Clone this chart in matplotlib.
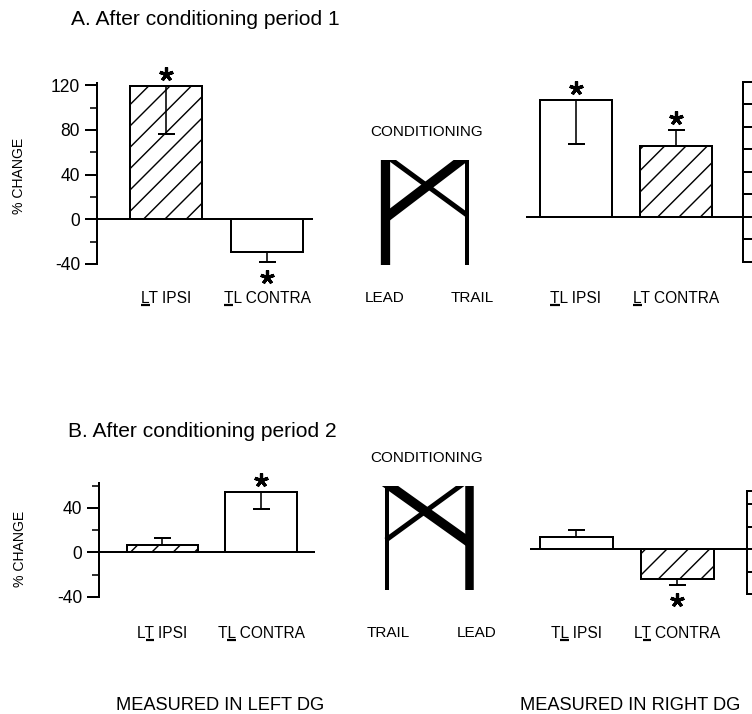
import matplotlib
matplotlib.use("Agg")
import matplotlib.pyplot as plt
from matplotlib.patches import Rectangle
from matplotlib.transforms import offset_copy

plt.rcParams["font.family"] = ["Liberation Sans", "DejaVu Sans"]
plt.rcParams["axes.unicode_minus"] = False
plt.rcParams["hatch.linewidth"] = 0.8

DPI = 128
W, H = 752, 714

# ---- data (% change) ----
a_left_labels = ["LT IPSI", "TL CONTRA"]
a_left_marked = [0, 0]             # index of the underlined letter
a_left_values = [119, -29]
a_left_errors = [-43, -9]          # signed: which way the error bar runs
a_left_hatched = [True, False]
a_left_stars = [True, True]

a_right_labels = ["TL IPSI", "LT CONTRA"]
a_right_marked = [0, 0]
a_right_values = [104, 63]
a_right_errors = [-39, 14]
a_right_hatched = [False, True]
a_right_stars = [True, True]

b_left_labels = ["LT IPSI", "TL CONTRA"]
b_left_marked = [1, 1]
b_left_values = [7, 54]
b_left_errors = [6, -15]
b_left_hatched = [True, False]
b_left_stars = [False, True]

b_right_labels = ["TL IPSI", "LT CONTRA"]
b_right_marked = [1, 1]
b_right_values = [11, -26]
b_right_errors = [6, -6]
b_right_hatched = [False, True]
b_right_stars = [False, True]


def pt(px):
    return px * 72 / DPI


def rect(left, top, right, bottom):
    return [left / W, 1 - bottom / H, (right - left) / W, (bottom - top) / H]


fig = plt.figure(figsize=(W / DPI, H / DPI), dpi=DPI)

# overlay in pixel coordinates for titles and the little limb diagrams
ov = fig.add_axes([0, 0, 1, 1])
ov.set_xlim(0, W)
ov.set_ylim(H, 0)
ov.axis("off")


def bars(ax, labels, values, errors, hatched, stars, ylim, pad):
    x = list(range(len(values)))
    for i in x:
        ax.bar(i, values[i], width=0.72, color="white", edgecolor="black",
               linewidth=pt(2), hatch="//" if hatched[i] else None, zorder=2)
    lo = [max(-e, 0) for e in errors]
    hi = [max(e, 0) for e in errors]
    ax.errorbar(x, values, yerr=[lo, hi], fmt="none", ecolor="black",
                elinewidth=pt(1.6), capsize=pt(8.5), capthick=pt(2), zorder=3)
    ax.axhline(0, color="black", linewidth=pt(2), zorder=4)
    for i in x:
        if not stars[i]:
            continue
        if values[i] >= 0:
            y = max(values[i], values[i] + errors[i])
            tr = offset_copy(ax.transData, fig=fig, y=pt(12), units="points")
        else:
            y = min(values[i], values[i] + errors[i])
            tr = offset_copy(ax.transData, fig=fig, y=-pt(15), units="points")
        ax.plot([i], [y], marker=(5, 2, 0), ms=pt(14), mew=pt(3.2),
                color="black", transform=tr, clip_on=False)
    ax.set_ylim(*ylim)
    ax.set_xticks(x, labels)
    ax.tick_params(axis="x", length=0, pad=pt(pad), labelsize=pt(15.5))
    ax.patch.set_visible(False)
    for s in ["top", "bottom"]:
        ax.spines[s].set_visible(False)


def left_axis(ax, major, minor):
    ax.spines["right"].set_visible(False)
    ax.spines["left"].set_linewidth(pt(2))
    ax.set_yticks(major)
    ax.set_yticks(minor, minor=True)
    ax.tick_params(axis="y", which="major", length=pt(12), width=pt(2),
                   pad=pt(5), labelsize=pt(17.5))
    ax.tick_params(axis="y", which="minor", length=pt(7), width=pt(1.6))


def right_axis(ax, ticks):
    ax.spines["left"].set_visible(False)
    ax.spines["right"].set_linewidth(pt(2))
    ax.yaxis.tick_right()
    ax.set_yticks(ticks)
    ax.tick_params(axis="y", length=pt(14), width=pt(2), labelright=False)


# A, measured in left DG
ax1 = fig.add_axes(rect(97, 83, 313, 264))
ax1.set_xlim(-0.683, 1.455)
bars(ax1, a_left_labels, a_left_values, a_left_errors, a_left_hatched,
     a_left_stars, (-40, 122), 27)
left_axis(ax1, [-40, 0, 40, 80, 120], [-20, 20, 60, 100])

# A, measured in right DG
ax2 = fig.add_axes(rect(526, 81.7, 742.7, 261.7))
ax2.set_xlim(-0.4985, 1.662)
bars(ax2, a_right_labels, a_right_values, a_right_errors, a_right_hatched,
     a_right_stars, (-40, 120), 29.3)
right_axis(ax2, [-40, -20, 0, 20, 40, 60, 80, 100, 120])

# B, measured in left DG
ax3 = fig.add_axes(rect(99.3, 483.4, 315, 596.8))
ax3.set_xlim(-0.637, 1.546)
bars(ax3, b_left_labels, b_left_values, b_left_errors, b_left_hatched,
     b_left_stars, (-40, 62), 29.2)
left_axis(ax3, [-40, 0, 40], [-20, 20, 60])

# B, measured in right DG
ax4 = fig.add_axes(rect(530, 490.8, 747.3, 594.3))
ax4.set_xlim(-0.4575, 1.690)
bars(ax4, b_right_labels, b_right_values, b_right_errors, b_right_hatched,
     b_right_stars, (-40, 52), 31.7)
right_axis(ax4, [-40, -20, 0, 20, 40, 52])

# titles and captions
ov.text(71, 25, "A. After conditioning period 1", fontsize=pt(21), va="baseline")
ov.text(68, 437, "B. After conditioning period 2", fontsize=pt(21), va="baseline")
ov.text(220, 710, "MEASURED IN LEFT DG", fontsize=pt(18.3), ha="center", va="baseline")
ov.text(630, 710, "MEASURED IN RIGHT DG", fontsize=pt(18.3), ha="center", va="baseline")
ov.text(19, 176, "% CHANGE", fontsize=pt(14), rotation=90, ha="center", va="center")
ov.text(20, 549, "% CHANGE", fontsize=pt(14), rotation=90, ha="center", va="center")

# conditioning diagrams
ov.text(427, 136, "CONDITIONING", fontsize=pt(15.3), ha="center", va="baseline")
ov.text(385, 302, "LEAD", fontsize=pt(15.3), ha="center", va="baseline")
ov.text(472, 302, "TRAIL", fontsize=pt(15.3), ha="center", va="baseline")
clip_a = Rectangle((360, 160), 130, 105, transform=ov.transData)
for xs, ys, w in [([384.5, 384.5], [150, 265], 9.3),
                  ([467, 467], [150, 265], 4),
                  ([384, 468], [219, 155], 9.5),
                  ([385, 467], [155, 215], 5)]:
    ln, = ov.plot(xs, ys, color="black", linewidth=pt(w), solid_capstyle="butt")
    ln.set_clip_path(clip_a)

ov.text(427, 462, "CONDITIONING", fontsize=pt(15.3), ha="center", va="baseline")
ov.text(388, 637, "TRAIL", fontsize=pt(15.3), ha="center", va="baseline")
ov.text(477, 637, "LEAD", fontsize=pt(15.3), ha="center", va="baseline")
clip_b = Rectangle((360, 486), 130, 104, transform=ov.transData)
for xs, ys, w in [([387, 387], [476, 590], 4),
                  ([469, 469], [476, 590], 8.5),
                  ([383, 470], [481, 543], 9.5),
                  ([386, 467], [540, 481], 5)]:
    ln, = ov.plot(xs, ys, color="black", linewidth=pt(w), solid_capstyle="butt")
    ln.set_clip_path(clip_b)

# underline the marked limb letter in each bar label
fig.canvas.draw()
rend = fig.canvas.get_renderer()
for ax, marked in [(ax1, a_left_marked), (ax2, a_right_marked),
                   (ax3, b_left_marked), (ax4, b_right_marked)]:
    for lab, k in zip(ax.get_xticklabels(), marked):
        s = lab.get_text()
        prop = lab.get_fontproperties()
        bb = lab.get_window_extent(rend)
        w0 = rend.get_text_width_height_descent(s[:k], prop, ismath=False)[0] if k else 0
        w1 = rend.get_text_width_height_descent(s[:k + 1], prop, ismath=False)[0]
        d = rend.get_text_width_height_descent("lp", prop, ismath=False)[2]
        yb = H - (bb.y0 + d) + 2
        ov.plot([bb.x0 + w0, bb.x0 + w1], [yb, yb], color="black",
                linewidth=pt(2.2), solid_capstyle="butt")

fig.savefig("out.png", dpi=DPI)
